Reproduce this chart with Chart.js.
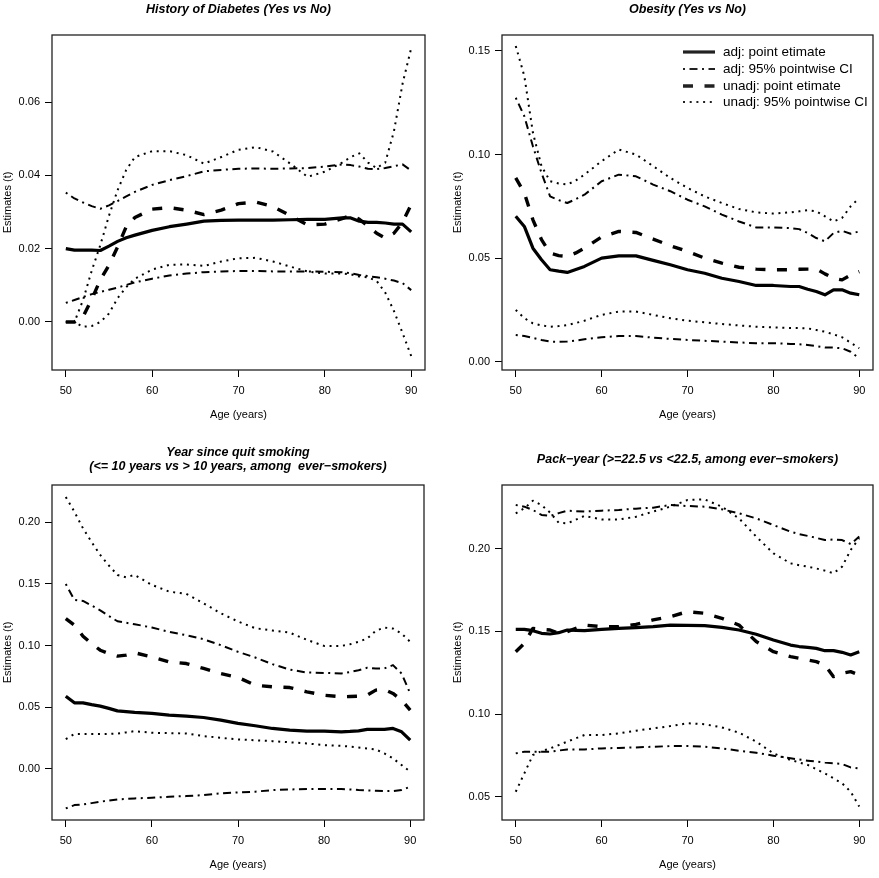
<!DOCTYPE html>
<html>
<head>
<meta charset="utf-8">
<script src="https://cdn.jsdelivr.net/npm/chart.js@4.4.0/dist/chart.umd.min.js"></script>
<style>
    body { margin: 0; background: #fff; }
    .panel { position: absolute; }
</style>
</head>
<body>
<div class="panel" style="left:0px;top:0px"><canvas id="p1" width="440" height="440"></canvas></div>
<div class="panel" style="left:440px;top:0px"><canvas id="p2" width="439" height="440"></canvas></div>
<div class="panel" style="left:0px;top:440px"><canvas id="p3" width="440" height="438"></canvas></div>
<div class="panel" style="left:440px;top:440px"><canvas id="p4" width="439" height="438"></canvas></div>
<script>
// ages (years)
const ages = [50, 51, 52, 53, 54, 55, 56, 57, 58, 60, 62, 64, 66, 68, 70, 72, 74, 76, 78, 80, 82, 83, 84, 85, 86, 87, 88, 89, 90];
const xTicks = [50, 60, 70, 80, 90];

// History of Diabetes
const diabAdj     = [.0200, .0196, .0196, .0196, .0195, .0207, .0220, .0230, .0237, .0250, .0260, .0267, .0275, .0277, .0278, .0278, .0278, .0279, .0280, .0280, .0284, .0284, .0275, .0272, .0272, .0270, .0267, .0267, .0246];
const diabAdjHi   = [.0353, .0337, .0326, .0316, .0309, .0318, .0330, .0343, .0355, .0374, .0387, .0398, .0411, .0415, .0418, .0419, .0418, .0419, .0420, .0424, .0430, .0428, .0424, .0418, .0417, .0420, .0425, .0430, .0413];
const diabAdjLo   = [.0052, .0060, .0068, .0076, .0082, .0088, .0094, .0101, .0108, .0118, .0127, .0132, .0136, .0138, .0139, .0139, .0138, .0138, .0138, .0137, .0136, .0133, .0128, .0125, .0122, .0118, .0113, .0106, .0087];
const diabUnadj   = [0, 0, .0015, .0062, .0115, .0155, .0205, .0260, .0285, .0308, .0312, .0305, .0293, .0305, .0323, .0327, .0315, .0290, .0265, .0267, .0282, .0291, .0280, .0262, .0242, .0229, .0242, .0272, .0320];
const diabUnadjHi = [0, 0, .0060, .0140, .0210, .0290, .0360, .0415, .0450, .0466, .0466, .0455, .0432, .0450, .0470, .0477, .0465, .0432, .0396, .0410, .0435, .0450, .0460, .0435, .0420, .0435, .0520, .0650, .0747];
const diabUnadjLo = [0, 0, -.0013, -.0011, .0000, .0023, .0065, .0095, .0118, .0143, .0156, .0157, .0153, .0165, .0174, .0175, .0165, .0151, .0138, .0132, .0132, .0130, .0124, .0122, .0112, .0080, .0030, -.0030, -.0093];
const diabTicks = [0, 0.02, 0.04, 0.06];

// Obesity
const obesAdj     = [.0702, .0653, .0548, .0492, .0444, .0437, .0431, .0445, .0460, .0500, .0511, .0511, .0489, .0468, .0444, .0427, .0403, .0387, .0368, .0368, .0363, .0363, .0350, .0339, .0323, .0347, .0347, .0331, .0323];
const obesAdjHi   = [.1274, .1185, .1040, .0911, .0798, .0780, .0766, .0785, .0806, .0871, .0903, .0895, .0855, .0823, .0782, .0750, .0710, .0677, .0648, .0648, .0645, .0640, .0621, .0597, .0581, .0621, .0632, .0618, .0629];
const obesAdjLo   = [.0129, .0124, .0115, .0105, .0097, .0096, .0097, .0102, .0108, .0118, .0124, .0124, .0116, .0110, .0105, .0101, .0097, .0093, .0089, .0089, .0086, .0084, .0081, .0075, .0069, .0068, .0065, .0048, .0016];
const obesUnadj   = [.0887, .0815, .0685, .0589, .0524, .0512, .0508, .0525, .0548, .0602, .0629, .0624, .0592, .0560, .0532, .0500, .0476, .0456, .0447, .0444, .0444, .0446, .0447, .0447, .0424, .0403, .0395, .0419, .0435];
const obesUnadjHi = [.1524, .1379, .1105, .0944, .0871, .0860, .0855, .0875, .0903, .0968, .1024, .1000, .0944, .0887, .0839, .0798, .0766, .0737, .0721, .0715, .0721, .0726, .0731, .0726, .0702, .0677, .0694, .0750, .0790];
const obesUnadjLo = [.0250, .0210, .0185, .0175, .0169, .0172, .0177, .0187, .0198, .0226, .0242, .0242, .0226, .0210, .0198, .0190, .0182, .0175, .0169, .0166, .0163, .0162, .0161, .0153, .0145, .0132, .0118, .0092, .0065];
const obesTicks = [0, 0.05, 0.10, 0.15];

// Year since quit smoking
const quitAdj     = [.0589, .0535, .0535, .0520, .0508, .0490, .0470, .0463, .0457, .0449, .0435, .0427, .0416, .0395, .0368, .0349, .0327, .0314, .0305, .0305, .0300, .0303, .0308, .0319, .0319, .0319, .0327, .0300, .0232];
const quitAdjHi   = [.1500, .1370, .1362, .1325, .1286, .1240, .1197, .1185, .1173, .1146, .1111, .1084, .1051, .1003, .0949, .0903, .0849, .0805, .0781, .0778, .0773, .0785, .0800, .0819, .0814, .0814, .0841, .0773, .0611];
const quitAdjLo   = [-.0322, -.0295, -.0289, -.0279, -.0268, -.0258, -.0249, -.0245, -.0241, -.0235, -.0227, -.0222, -.0214, -.0200, -.0192, -.0186, -.0173, -.0168, -.0165, -.0165, -.0165, -.0168, -.0173, -.0176, -.0178, -.0180, -.0181, -.0173, -.0146];
const quitUnadj   = [.1219, .1165, .1076, .1015, .0962, .0935, .0914, .0922, .0941, .0908, .0868, .0854, .0814, .0773, .0741, .0678, .0665, .0659, .0624, .0597, .0584, .0586, .0589, .0597, .0638, .0643, .0611, .0557, .0476];
const quitUnadjHi = [.2205, .2086, .1951, .1840, .1735, .1650, .1573, .1554, .1573, .1492, .1438, .1419, .1343, .1262, .1195, .1141, .1122, .1105, .1046, .0997, .0997, .1010, .1030, .1057, .1119, .1146, .1138, .1097, .1030];
const quitUnadjLo = [.0241, .0281, .0281, .0281, .0281, .0283, .0286, .0295, .0305, .0292, .0289, .0286, .0265, .0251, .0238, .0231, .0224, .0215, .0205, .0192, .0186, .0180, .0173, .0165, .0157, .0124, .0084, .0030, -.0024];
const quitTicks = [0, 0.05, 0.10, 0.15, 0.20];

// Pack-year
const packAdj     = [.1512, .1512, .1504, .1488, .1484, .1492, .1508, .1506, .1504, .1512, .1518, .1522, .1528, .1538, .1536, .1534, .1524, .1508, .1482, .1448, .1417, .1408, .1403, .1397, .1383, .1383, .1373, .1357, .1377];
const packAdjHi   = [.2264, .2254, .2234, .2204, .2198, .2215, .2230, .2227, .2224, .2230, .2234, .2242, .2248, .2264, .2258, .2254, .2238, .2214, .2183, .2143, .2103, .2088, .2077, .2065, .2052, .2056, .2052, .2028, .2073];
const packAdjLo   = [.0762, .0772, .0772, .0772, .0772, .0779, .0786, .0786, .0786, .0792, .0795, .0798, .0802, .0806, .0806, .0802, .0792, .0778, .0766, .0748, .0732, .0725, .0718, .0712, .0706, .0702, .0698, .0677, .0671];
const packUnadj   = [.1377, .1427, .1518, .1512, .1508, .1488, .1498, .1518, .1538, .1528, .1528, .1542, .1569, .1589, .1619, .1609, .1579, .1538, .1438, .1377, .1347, .1337, .1327, .1317, .1296, .1226, .1246, .1256, .1236];
const packUnadjHi = [.2214, .2244, .2290, .2264, .2218, .2157, .2153, .2175, .2198, .2177, .2177, .2193, .2224, .2254, .2294, .2298, .2254, .2183, .2073, .1972, .1911, .1900, .1891, .1880, .1867, .1851, .1891, .1992, .2063];
const packUnadjLo = [.0530, .0641, .0752, .0775, .0792, .0812, .0833, .0853, .0873, .0873, .0883, .0899, .0913, .0927, .0944, .0938, .0919, .0887, .0833, .0762, .0722, .0707, .0692, .0666, .0641, .0611, .0581, .0530, .0440];
const packTicks = [0.05, 0.10, 0.15, 0.20];

const legendLabels = ['adj: point etimate', 'adj: 95% pointwise CI', 'unadj: point etimate', 'unadj: 95% pointwise CI'];

const FONT = "'Liberation Sans', Arial, Helvetica, sans-serif";
const styles = {
    point:   { borderWidth: 3.2, borderDash: [] },
    ci:      { borderWidth: 2,   borderDash: [2, 4.5, 8, 4.5] },
    upoint:  { borderWidth: 3.4, borderDash: [10, 11.5] },
    uci:     { borderWidth: 2,   borderDash: [2, 4.7] }
};

function series(vals, style) {
    return {
        data: ages.map((a, i) => ({ x: a, y: vals[i] })),
        borderColor: '#000',
        borderWidth: styles[style].borderWidth,
        borderDash: styles[style].borderDash,
        borderCapStyle: 'butt',
        borderJoinStyle: 'round',
        pointRadius: 0,
        tension: 0,
        fill: false
    };
}

// box, titles and legend
const framePlugin = {
    id: 'frame',
    afterDraw(chart, args, opts) {
        const { ctx, chartArea: a } = chart;
        ctx.save();
        ctx.strokeStyle = '#222';
        ctx.lineWidth = 1.3;
        ctx.setLineDash([]);
        ctx.strokeRect(a.left, a.top, a.right - a.left, a.bottom - a.top);

        ctx.fillStyle = '#000';
        ctx.font = 'italic bold 12.5px ' + FONT;
        ctx.textAlign = 'center';
        ctx.textBaseline = 'middle';
        opts.title.forEach((t, i) => ctx.fillText(t, (a.left + a.right) / 2, opts.titleY[i]));

        if (opts.legend) {
            const keys = ['point', 'ci', 'upoint', 'uci'];
            const rows = [52, 69, 86, 102];
            ctx.font = '13.5px ' + FONT;
            ctx.textAlign = 'left';
            keys.forEach((k, i) => {
                ctx.beginPath();
                ctx.lineWidth = styles[k].borderWidth;
                ctx.setLineDash(styles[k].borderDash);
                ctx.moveTo(243, rows[i]);
                ctx.lineTo(275, rows[i]);
                ctx.stroke();
                ctx.setLineDash([]);
                ctx.fillText(legendLabels[i], 283, rows[i] + 0.5);
            });
        }
        ctx.restore();
    }
};

function makeChart(id, p) {
    const cv = document.getElementById(id);
    const W = cv.width, H = cv.height;
    new Chart(cv, {
        type: 'line',
        data: {
            datasets: [
                series(p.adj, 'point'),
                series(p.adjHi, 'ci'),
                series(p.adjLo, 'ci'),
                series(p.unadj, 'upoint'),
                series(p.unadjHi, 'uci'),
                series(p.unadjLo, 'uci')
            ]
        },
        options: {
            responsive: false,
            animation: false,
            events: [],
            layout: { padding: { left: 0, top: p.area.top, right: W - p.area.right, bottom: 0 } },
            plugins: {
                legend: { display: false },
                tooltip: { enabled: false },
                frame: { title: p.title, titleY: p.titleY, legend: p.legend }
            },
            scales: {
                x: {
                    type: 'linear',
                    min: 48.4,
                    max: 91.6,
                    afterBuildTicks: s => { s.ticks = xTicks.map(v => ({ value: v })); },
                    afterFit: s => { s.height = H - p.area.bottom; },
                    grid: { drawOnChartArea: false, tickLength: 7, color: '#000', lineWidth: 1 },
                    border: { display: false },
                    ticks: {
                        color: '#000', padding: 7, maxRotation: 0, autoSkip: false,
                        font: { family: FONT, size: 11 },
                        callback: v => String(v)
                    },
                    title: {
                        display: true, text: 'Age (years)', color: '#000',
                        font: { family: FONT, size: 11, lineHeight: 1.2 },
                        padding: { top: 0, bottom: H - p.xTitleY - 6.6 }
                    }
                },
                y: {
                    type: 'linear',
                    min: p.yMin,
                    max: p.yMax,
                    afterBuildTicks: s => { s.ticks = p.yTicks.map(v => ({ value: v })); },
                    afterFit: s => { s.width = p.area.left; },
                    grid: { drawOnChartArea: false, tickLength: 7, color: '#000', lineWidth: 1 },
                    border: { display: false },
                    ticks: {
                        color: '#000', padding: 5, autoSkip: false,
                        font: { family: FONT, size: 11 },
                        callback: v => v.toFixed(2)
                    },
                    title: {
                        display: true, text: 'Estimates (t)', color: '#000',
                        font: { family: FONT, size: 11, lineHeight: 1.2 },
                        padding: { top: p.yTitleX - 6.6, bottom: 0 }
                    }
                }
            }
        },
        plugins: [framePlugin]
    });
}

makeChart('p1', {
    adj: diabAdj, adjHi: diabAdjHi, adjLo: diabAdjLo,
    unadj: diabUnadj, unadjHi: diabUnadjHi, unadjLo: diabUnadjLo,
    yMin: -0.0131, yMax: 0.0783, yTicks: diabTicks,
    area: { left: 52, top: 35, right: 425, bottom: 370 },
    xTitleY: 415, yTitleX: 8.3,
    title: ['History of Diabetes (Yes vs No)'], titleY: [10], legend: false
});
makeChart('p2', {
    adj: obesAdj, adjHi: obesAdjHi, adjLo: obesAdjLo,
    unadj: obesUnadj, unadjHi: obesUnadjHi, unadjLo: obesUnadjLo,
    yMin: -0.004, yMax: 0.1577, yTicks: obesTicks,
    area: { left: 62, top: 35, right: 433, bottom: 370 },
    xTitleY: 415, yTitleX: 18.3,
    title: ['Obesity (Yes vs No)'], titleY: [10], legend: true
});
makeChart('p3', {
    adj: quitAdj, adjHi: quitAdjHi, adjLo: quitAdjLo,
    unadj: quitUnadj, unadjHi: quitUnadjHi, unadjLo: quitUnadjLo,
    yMin: -0.0416, yMax: 0.2303, yTicks: quitTicks,
    area: { left: 52, top: 45, right: 424, bottom: 380 },
    xTitleY: 425, yTitleX: 8.3,
    title: ['Year since quit smoking', '(<= 10 years vs > 10 years, among  ever\u2212smokers)'], titleY: [12.7, 26.7], legend: false
});
makeChart('p4', {
    adj: packAdj, adjHi: packAdjHi, adjLo: packAdjLo,
    unadj: packUnadj, unadjHi: packUnadjHi, unadjLo: packUnadjLo,
    yMin: 0.0359, yMax: 0.2385, yTicks: packTicks,
    area: { left: 62, top: 45, right: 433, bottom: 380 },
    xTitleY: 425, yTitleX: 18.3,
    title: ['Pack\u2212year (>=22.5 vs <22.5, among ever\u2212smokers)'], titleY: [20], legend: false
});
</script>
</body>
</html>
